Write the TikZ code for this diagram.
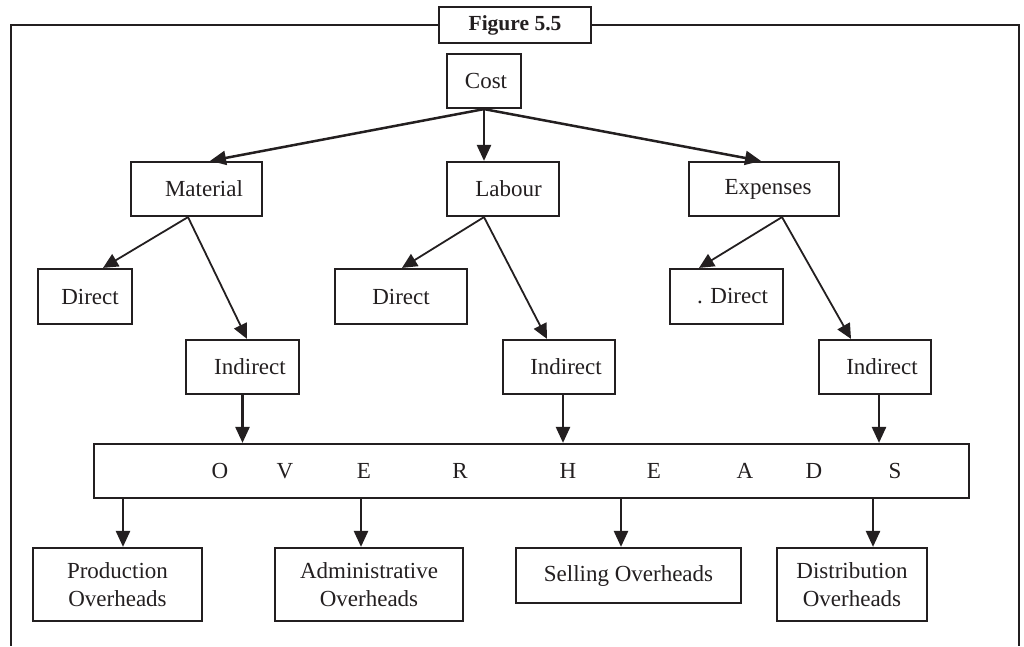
\documentclass[tikz,border=0pt]{standalone}
\usepackage{fontspec}
\setmainfont{Liberation Serif}
\usetikzlibrary{arrows.meta}
\definecolor{inkc}{RGB}{35,31,32}
\begin{document}
\begin{tikzpicture}[x=1pt,y=-1pt,
  box/.style={draw=inkc, line width=2.2pt, rectangle, inner sep=0pt, align=center,
    text=inkc, font=\fontsize{23}{28}\selectfont},
  arr/.style={draw=inkc, line width=1.8pt, -{Triangle[length=15pt,width=14pt]}},
  thickarr/.style={arr, line width=2.5pt, -{Triangle[length=16pt,width=14pt]}},
  frame/.style={draw=inkc, line width=2pt},
  lett/.style={text=inkc, inner sep=0pt, font=\fontsize{23}{28}\selectfont}]
\useasboundingbox (0,0) rectangle (1024,646);

% title tab and outer frame
\node[box, minimum width=152, minimum height=36, font=\bfseries\fontsize{21.5}{25}\selectfont] (fig) at (515,25) {Figure 5.5};
\coordinate (tl) at (11,25);
\coordinate (bl) at (11,646);
\coordinate (tr) at (1019,25);
\coordinate (br) at (1019,646);
\draw[frame] (fig.west) -- (tl) -- (bl);
\draw[frame] (fig.east) -- (tr) -- (br);

% cost and its three elements
\node[box, minimum width=74, minimum height=54] (cost) at (484,81) {\hspace*{4pt}Cost};
\node[box, minimum width=131, minimum height=54] (mat) at (196.5,189) {\hspace*{15pt}Material};
\node[box, minimum width=112, minimum height=54] (lab) at (503,189) {\hspace*{11pt}Labour};
\node[box, minimum width=150, minimum height=54] (exp) at (764,189) {\hspace*{8pt}Expenses};

% direct / indirect split
\node[box, minimum width=94, minimum height=55] (mdir) at (85,296.5) {\hspace*{10pt}Direct};
\node[box, minimum width=132, minimum height=55] (ldir) at (401,296.5) {Direct};
\node[box, minimum width=113, minimum height=55] (edir) at (726.5,296.5) {\hspace*{12pt}. Direct};
\node[box, minimum width=113, minimum height=54] (mind) at (242.5,367) {\hspace*{15pt}Indirect};
\node[box, minimum width=112, minimum height=54] (lind) at (559,367) {\hspace*{14pt}Indirect};
\node[box, minimum width=112, minimum height=54] (eind) at (875,367) {\hspace*{14pt}Indirect};

% overheads bar
\node[box, minimum width=875, minimum height=54] (ovh) at (531.5,471) {};
\foreach \ch/\xx [count=\i] in {O/220,V/285,E/364,R/460,H/568,E/654,A/745,D/814,S/895}
  \node[lett] (ovl\i) at (\xx,471) {\ch};

% kinds of overheads
\node[box, minimum width=169, minimum height=73] (prod) at (117.5,584.5) {Production\\Overheads};
\node[box, minimum width=188, minimum height=73] (adm) at (369,584.5) {Administrative\\Overheads};
\node[box, minimum width=225, minimum height=55] (sell) at (628.5,575.5) {Selling Overheads};
\node[box, minimum width=150, minimum height=73] (dist) at (852,584.5) {Distribution\\Overheads};

% connectors from cost
\draw[thickarr] (cost.south) -- ([xshift=13.5pt]mat.north);
\draw[thickarr] (cost.south) -- ([xshift=-19pt]lab.north);
\draw[thickarr] (cost.south) -- ([xshift=-3pt]exp.north);

% connectors to direct / indirect
\coordinate (ms) at ([xshift=-8.5pt]mat.south);
\coordinate (ls) at ([xshift=-19pt]lab.south);
\coordinate (es) at ([xshift=18pt]exp.south);
\draw[arr] (ms) -- ([xshift=18pt]mdir.north);
\draw[arr] (ms) -- ([xshift=4.5pt]mind.north);
\draw[arr] (ls) -- ([xshift=1pt]ldir.north);
\draw[arr] (ls) -- ([xshift=-12pt]lind.north);
\draw[arr] (es) -- ([xshift=-27.5pt]edir.north);
\draw[arr] (es) -- ([xshift=-24pt]eind.north);

% indirect costs into overheads
\coordinate (mi) at (mind.south);
\coordinate (li) at ([xshift=4pt]lind.south);
\coordinate (ei) at ([xshift=4pt]eind.south);
\draw[thickarr] (mi) -- (mi |- ovh.north);
\draw[thickarr] (li) -- (li |- ovh.north);
\draw[thickarr] (ei) -- (ei |- ovh.north);

% overheads into their kinds
\coordinate (pn) at ([xshift=5.5pt]prod.north);
\coordinate (an) at ([xshift=-8pt]adm.north);
\coordinate (sn) at ([xshift=-7.5pt]sell.north);
\coordinate (dn) at ([xshift=21pt]dist.north);
\draw[thickarr] (pn |- ovh.south) -- (pn);
\draw[thickarr] (an |- ovh.south) -- (an);
\draw[thickarr] (sn |- ovh.south) -- (sn);
\draw[thickarr] (dn |- ovh.south) -- (dn);
\end{tikzpicture}
\end{document}
